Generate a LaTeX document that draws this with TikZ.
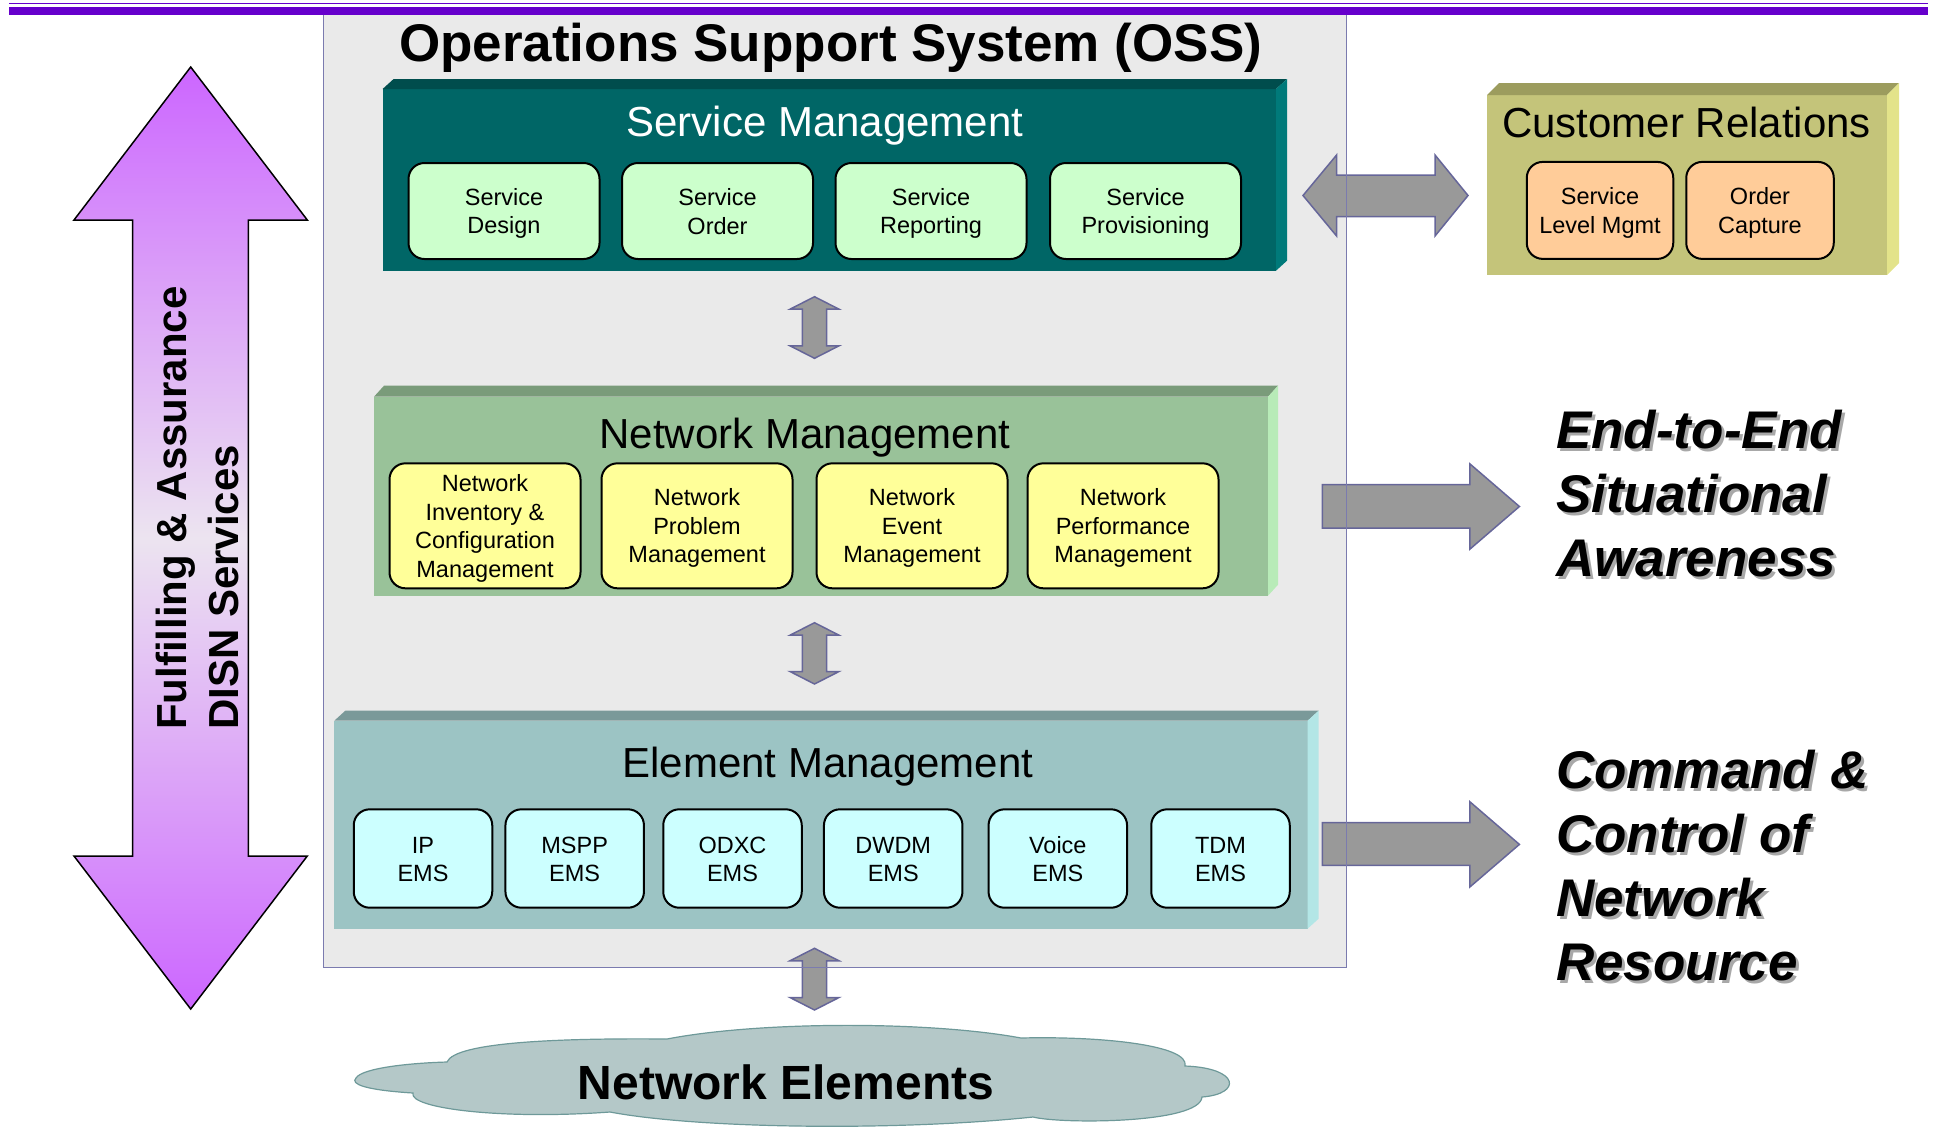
\documentclass[tikz,border=0pt]{standalone}
\usepackage{fontspec}
\setmainfont{Liberation Sans}

% palette
\definecolor{ossfill}{HTML}{EAEAEA}
\definecolor{ossline}{HTML}{7B7BAF}
\definecolor{barpurple}{HTML}{6600CC}
\definecolor{smfront}{HTML}{006666}
\definecolor{smtop}{HTML}{004D4D}
\definecolor{smside}{HTML}{007A7A}
\definecolor{svcbox}{HTML}{CCFFCC}
\definecolor{crfront}{HTML}{C4C47A}
\definecolor{crtop}{HTML}{9C9C5E}
\definecolor{crside}{HTML}{E3E38A}
\definecolor{crbox}{HTML}{FFCC99}
\definecolor{nmfront}{HTML}{99C299}
\definecolor{nmtop}{HTML}{7A9B7A}
\definecolor{nmside}{HTML}{B8EBB8}
\definecolor{nmbox}{HTML}{FFFF99}
\definecolor{emfront}{HTML}{9CC4C4}
\definecolor{emtop}{HTML}{7A9999}
\definecolor{emside}{HTML}{B3E6E6}
\definecolor{embox}{HTML}{CCFFFF}
\definecolor{blockgray}{HTML}{999999}
\definecolor{blockline}{HTML}{666699}
\definecolor{cloudfill}{HTML}{B4C8C8}
\definecolor{cloudline}{HTML}{6E9999}
\definecolor{fapurple}{HTML}{CC66FF}
\definecolor{falight}{HTML}{ECE4F0}
\definecolor{shadowgray}{HTML}{A8A8A8}

% struts that fix the first-line height and last-line depth of the boxes
\newcommand\boxstrut{\rule[-4pt]{0pt}{26pt}}
\newcommand\capstrut{\rule{0pt}{45pt}}

% top and right faces of a bevelled slab
\newcommand\slabsides[5]{%
  \fill[#4] (#1.north west) -- ++(#2,-#3) -- ([shift={(#2,-#3)}]#1.north east) -- (#1.north east) -- cycle;
  \fill[#5] (#1.north east) -- ++(#2,-#3) -- ([shift={(#2,-#3)}]#1.south east) -- (#1.south east) -- cycle;
}

% vertical double block arrow at x=#1 from y=#2 to y=#3
\newcommand\vdarrow[3]{%
  \draw[blockarrow] (#1,#2) -- ({#1+24.5},{#2+12.5}) -- ({#1+12.2},{#2+12.5})
    -- ({#1+12.2},{#3-12.5}) -- ({#1+24.5},{#3-12.5}) -- (#1,#3)
    -- ({#1-24.5},{#3-12.5}) -- ({#1-12.2},{#3-12.5}) -- ({#1-12.2},{#2+12.5})
    -- ({#1-24.5},{#2+12.5}) -- cycle;
}

\begin{document}
\begin{tikzpicture}[x=1pt,y=-1pt,
  slab/.style={inner sep=0, outer sep=0, anchor=north west},
  ibox/.style={draw=black, line width=2pt, rounded corners=16pt, inner sep=0,
    align=center, font=\fontsize{23.5}{28.5}\selectfont},
  layertitle/.style={anchor=base, inner sep=0, font=\fontsize{42}{50}\selectfont},
  blockarrow/.style={draw=blockline, line width=1.5pt, fill=blockgray, line join=miter},
  sidetext/.style={anchor=north west, align=left, inner sep=0,
    font=\bfseries\itshape\fontsize{53}{64}\selectfont},
]
\useasboundingbox (0,0) rectangle (1937,1128);

% OSS frame
\node[slab, fill=ossfill, minimum width=1023, minimum height=955] (oss) at (323.5,12.5) {};
\node[anchor=base, inner sep=0, font=\bfseries\fontsize{53}{60}\selectfont] (osstitle)
  at (830.6,61.7) {Operations Support System (OSS)};

% Service Management layer
\node[slab, fill=smfront, minimum width=893.4, minimum height=181.7] (sm) at (382.6,89) {};
\slabsides{sm}{11}{10}{smtop}{smside}
\node[layertitle, text=white] (smtitle) at (825,136) {Service Management};
\node[ibox, fill=svcbox, minimum width=191, minimum height=96] (sd) at (504,211) {\boxstrut Service\\Design\boxstrut};
\node[ibox, fill=svcbox, minimum width=191, minimum height=96] (so) at (717.5,211) {\boxstrut Service\\Order\boxstrut};
\node[ibox, fill=svcbox, minimum width=191, minimum height=96] (sr) at (931,211) {\boxstrut Service\\Reporting\boxstrut};
\node[ibox, fill=svcbox, minimum width=191, minimum height=96] (sp) at (1145.5,211) {\boxstrut Service\\Provisioning\boxstrut};

% Customer Relations block
\node[slab, fill=crfront, minimum width=400, minimum height=180] (cr) at (1487,95) {};
\slabsides{cr}{12}{12}{crtop}{crside}
\node[layertitle] (crtitle) at (1686.5,137.3) {Customer Relations};
\node[ibox, fill=crbox, minimum width=146.5, minimum height=97] (slm) at (1600,210.4) {\boxstrut Service\\Level Mgmt\boxstrut};
\node[ibox, fill=crbox, minimum width=147.5, minimum height=97] (oc) at (1760,210.4) {\boxstrut Order\\Capture\boxstrut};

% Network Management layer
\node[slab, fill=nmfront, minimum width=894, minimum height=199] (nm) at (374,396.7) {};
\slabsides{nm}{10}{11}{nmtop}{nmside}
\node[layertitle] (nmtitle) at (805,448.3) {Network Management};
\node[ibox, fill=nmbox, minimum width=191, minimum height=125] (nic) at (485,525.8) {\boxstrut Network\\Inventory \&\\Configuration\\Management\boxstrut};
\node[ibox, fill=nmbox, minimum width=191, minimum height=125] (npm) at (697,525.8) {\boxstrut Network\\Problem\\Management\boxstrut};
\node[ibox, fill=nmbox, minimum width=191, minimum height=125] (nem) at (912,525.8) {\boxstrut Network\\Event\\Management\boxstrut};
\node[ibox, fill=nmbox, minimum width=191, minimum height=125] (nperf) at (1123,525.8) {\boxstrut Network\\Performance\\Management\boxstrut};

% Element Management layer
\node[slab, fill=emfront, minimum width=973.3, minimum height=208] (em) at (334.3,720.7) {};
\slabsides{em}{11}{10}{emtop}{emside}
\node[layertitle] (emtitle) at (828,777.3) {Element Management};
\node[ibox, fill=embox, minimum width=138.5, minimum height=98.4] (ipems) at (423,858.5) {\boxstrut IP\\EMS\boxstrut};
\node[ibox, fill=embox, minimum width=138.5, minimum height=98.4] (msppems) at (574.7,858.5) {\boxstrut MSPP\\EMS\boxstrut};
\node[ibox, fill=embox, minimum width=138.5, minimum height=98.4] (odxcems) at (732.5,858.5) {\boxstrut ODXC\\EMS\boxstrut};
\node[ibox, fill=embox, minimum width=138.5, minimum height=98.4] (dwdmems) at (893.2,858.5) {\boxstrut DWDM\\EMS\boxstrut};
\node[ibox, fill=embox, minimum width=138.5, minimum height=98.4] (voiceems) at (1057.8,858.5) {\boxstrut Voice\\EMS\boxstrut};
\node[ibox, fill=embox, minimum width=138.5, minimum height=98.4] (tdmems) at (1220.5,858.5) {\boxstrut TDM\\EMS\boxstrut};

% block arrows between the layers and out of the frame
\vdarrow{814.5}{296.7}{358.3}
\vdarrow{814.5}{622.7}{684}
\vdarrow{814.5}{948.3}{1010}
\draw[blockarrow] (1303,195.5) -- (1336.6,155) -- (1336.6,175) -- (1435,175) -- (1435,155)
  -- (1468,195.5) -- (1435,236) -- (1435,216.7) -- (1336.6,216.7) -- (1336.6,236) -- cycle;
\draw[blockarrow] (1322.4,484.7) -- (1469.8,484.7) -- (1469.8,463.8) -- (1519.4,506.5)
  -- (1469.8,549.2) -- (1469.8,528.2) -- (1322.4,528.2) -- cycle;
\draw[blockarrow] (1322.4,822.7) -- (1469.8,822.7) -- (1469.8,801.7) -- (1519.4,844.4)
  -- (1469.8,887) -- (1469.8,865.4) -- (1322.4,865.4) -- cycle;

% OSS frame outline on top
\draw[ossline, line width=1.5pt] (oss.north west) rectangle (oss.south east);

% header rules
\draw[barpurple, line width=1.5pt] (9,3.6) -- (1928,3.6);
\fill[barpurple] (9,6.7) rectangle (1928,14.5);

% Fulfilling & Assurance arrow
\draw[black, line width=1.5pt, top color=fapurple, bottom color=fapurple, middle color=falight]
  (190.7,67) -- (307.3,220) -- (248.3,220) -- (248.3,856) -- (307.3,856) -- (190.7,1009)
  -- (74,856) -- (132.7,856) -- (132.7,220) -- (74,220) -- cycle;
\node[rotate=90, anchor=west, align=left, inner sep=0, font=\bfseries\fontsize{42}{51.6}\selectfont]
  (fa) at (197.2,730) {Fulfilling \& Assurance\\DISN Services};

% Network Elements cloud
\draw[cloudline, line width=1.2pt, fill=cloudfill] (447,1062)
  .. controls (455,1042) and (560,1038) .. (667,1039)
  .. controls (760,1021) and (930,1021) .. (1021,1038)
  .. controls (1100,1036) and (1190,1045) .. (1185,1066)
  .. controls (1240,1068) and (1242,1094) .. (1202,1097)
  .. controls (1200,1124) and (1060,1124) .. (1033,1117)
  .. controls (900,1131) and (700,1129) .. (610,1112)
  .. controls (500,1120) and (408,1108) .. (413,1093)
  .. controls (365,1090) and (350,1084) .. (356,1078)
  .. controls (362,1068) and (410,1063) .. (447,1062) -- cycle;
\node[anchor=base, inner sep=0, font=\bfseries\fontsize{48}{56}\selectfont] (ne) at (786,1099.3) {Network Elements};

% outcome captions with drop shadow
\node[sidetext, text=shadowgray] (e2eshadow) at (1559,406) {\capstrut End-to-End\\Situational\\Awareness};
\node[sidetext] (e2e) at (1556,403) {\capstrut End-to-End\\Situational\\Awareness};
\node[sidetext, text=shadowgray] (ccshadow) at (1559,746) {\capstrut Command \&\\Control of\\Network\\Resource};
\node[sidetext] (cc) at (1556,743) {\capstrut Command \&\\Control of\\Network\\Resource};
\end{tikzpicture}
\end{document}
